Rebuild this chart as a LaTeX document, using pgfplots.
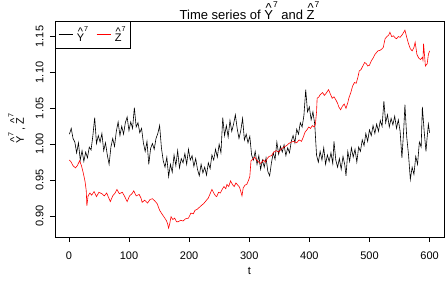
\documentclass[border=0pt]{standalone}
\usepackage{fontspec}
\setmainfont{Liberation Sans}
\usepackage{pgfplots}
\pgfplotsset{compat=1.18}
% R-style hat: a caret set well above the letter, then a small raised 7
\newcommand{\hatl}[1]{\setbox0\hbox{#1}\rlap{\hbox to \wd0{\hss\raisebox{0.55em}{\textasciicircum}\hss}}#1}
\newcommand{\Yh}{\hatl{Y}\raisebox{0.95em}{\scalebox{0.65}{7}}}
\newcommand{\Zh}{\hatl{Z}\raisebox{0.95em}{\scalebox{0.65}{7}}}

\begin{document}
\begin{tikzpicture}
\useasboundingbox (-55pt,-47pt) rectangle (392pt,237pt);
\begin{axis}[
    at={(0pt,0pt)}, anchor=south west,
    scale only axis, width=389pt, height=216pt,
    xmin=-23, xmax=624, ymin=0.8707, ymax=1.1717,
    xtick={0,100,200,300,400,500,600},
    ytick={0.90,0.95,1.00,1.05,1.10,1.15},
    axis line style={line width=0.6pt},
    tick align=outside, xtick pos=bottom, ytick pos=left,
    major tick length=5pt, tick style={black, line width=0.6pt},
    tick label style={font=\fontsize{11}{12}\selectfont},
    xticklabel shift=6pt, yticklabel shift=3pt,
    /pgf/number format/assume math mode=true,
    y tick label style={rotate=90, anchor=south,
        /pgf/number format/fixed, /pgf/number format/fixed zerofill,
        /pgf/number format/precision=2},
    xlabel={t}, ylabel={\Yh\,, \Zh},
    xlabel style={at={(axis description cs:0.5,-0.157)}, anchor=center, font=\fontsize{11}{12}\selectfont},
    ylabel style={at={(axis description cs:-0.098,0.5)}, anchor=center, font=\fontsize{11}{12}\selectfont},
    title={Time series of \Yh\ and \Zh},
    every axis title shift=0pt,
    title style={at={(axis description cs:0.5,1)}, anchor=base, yshift=1.5pt, font=\fontsize{13}{14}\selectfont},
    legend columns=2,
    legend style={at={(0,1)}, anchor=north west, draw=black, line width=0.6pt, fill=white,
        font=\fontsize{11}{12}\selectfont, inner xsep=3pt, inner ysep=3pt,
        /tikz/every even column/.append style={column sep=6pt},
        /tikz/every odd column/.append style={column sep=2pt}},
    legend image code/.code={\draw[#1] (0pt,0pt) -- (14pt,0pt);},
]

\addplot[black, line width=0.6pt] coordinates {
(1,1.014) (4,1.022) (7,1.008) (10,1.003) (13,0.988) (16,1.002) (19,0.978) (22,0.991)
(25,0.976) (28,0.989) (31,0.981) (34,0.996) (37,0.992) (40,1.012) (43,1.037) (46,1.001)
(49,1.012) (52,1.003) (55,1.015) (58,0.991) (61,1.002) (64,0.985) (67,0.972) (70,0.996)
(73,1.008) (76,0.997) (79,1.018) (82,1.031) (85,1.012) (88,1.025) (91,1.014) (94,1.030)
(97,1.038) (100,1.019) (103,1.031) (106,1.022) (109,1.051) (112,1.024) (115,1.030) (118,1.016)
(121,1.022) (124,1.002) (127,0.990) (130,1.004) (133,0.972) (136,0.994) (139,1.001) (142,0.993)
(145,1.008) (148,1.015) (151,1.026) (154,0.995) (157,0.977) (160,0.968) (163,0.982) (166,0.955)
(169,0.972) (172,0.961) (175,0.985) (178,0.970) (181,0.991) (184,0.967) (187,0.980) (190,0.974)
(193,0.987) (196,0.972) (199,0.993) (202,0.978) (205,0.984) (208,0.969) (211,0.980) (214,0.965)
(217,0.956) (220,0.972) (223,0.960) (226,0.968) (229,0.957) (232,0.974) (235,0.966) (238,0.985)
(241,0.978) (244,0.993) (247,0.982) (250,1.000) (253,0.988) (256,1.037) (259,1.012) (262,1.026)
(265,1.010) (268,1.033) (271,1.018) (274,1.028) (277,1.041) (280,1.022) (283,1.008) (286,1.019)
(289,1.036) (292,1.006) (295,1.014) (298,1.002) (301,1.011) (304,0.985) (307,0.978) (310,0.990)
(313,0.972) (316,0.984) (319,0.965) (322,0.978) (325,0.968) (328,0.981) (331,0.962) (334,0.956)
(337,0.974) (340,0.988) (343,0.979) (346,1.003) (349,0.986) (352,0.997) (355,0.989) (358,0.999)
(361,0.984) (364,0.995) (367,0.988) (370,1.004) (373,1.012) (376,1.002) (379,1.021) (382,1.014)
(385,1.030) (388,1.024) (391,1.040) (394,1.076) (397,1.045) (400,1.052) (403,1.034) (406,1.045)
(409,1.028) (412,0.985) (415,0.975) (418,0.990) (421,0.978) (424,0.995) (427,0.972) (430,0.985)
(433,0.976) (436,0.988) (439,0.973) (441,1.004) (444,0.978) (447,0.968) (450,0.980) (453,0.965)
(456,0.983) (459,0.971) (461,0.956) (464,0.990) (467,0.976) (470,0.995) (473,0.982) (476,0.993)
(479,0.975) (482,0.996) (485,0.990) (488,1.006) (491,0.998) (494,1.015) (497,1.004) (500,1.020)
(503,1.012) (506,1.026) (509,1.015) (512,1.028) (515,1.018) (518,1.033) (521,1.025) (524,1.060)
(527,1.030) (530,1.041) (533,1.024) (536,1.036) (539,1.027) (542,1.039) (545,1.022) (548,1.034)
(551,1.018) (554,0.981) (557,1.020) (559,1.055) (562,1.010) (565,0.985) (568,0.951) (571,0.968)
(574,0.958) (577,0.983) (580,0.972) (583,1.003) (586,0.996) (588,1.052) (591,1.018) (594,0.990)
(596,1.010) (598,1.028) (600,1.016)
};
\addlegendentry{\Yh}

\addplot[red, line width=0.6pt] coordinates {
(1,0.978) (4,0.975) (7,0.970) (11,0.967) (14,0.970) (18,0.977) (21,0.970) (24,0.960)
(27,0.948) (29,0.935) (30,0.914) (32,0.928) (35,0.932) (38,0.929) (42,0.934) (46,0.927)
(50,0.933) (55,0.931) (59,0.928) (63,0.932) (66,0.926) (69,0.920) (73,0.928) (77,0.932)
(80,0.937) (84,0.931) (89,0.933) (93,0.927) (97,0.920) (101,0.928) (105,0.931) (108,0.935)
(112,0.928) (117,0.930) (120,0.925) (122,0.919) (126,0.922) (131,0.918) (135,0.923) (139,0.924)
(143,0.921) (147,0.917) (151,0.908) (154,0.904) (158,0.899) (162,0.894) (164,0.890) (166,0.883)
(168,0.890) (170,0.899) (173,0.895) (176,0.897) (179,0.892) (182,0.892) (186,0.894) (190,0.893)
(194,0.896) (199,0.897) (203,0.904) (207,0.903) (210,0.908) (213,0.909) (217,0.912) (221,0.915)
(224,0.917) (228,0.921) (232,0.925) (235,0.931) (238,0.937) (241,0.932) (244,0.928) (246,0.927)
(249,0.933) (252,0.932) (255,0.937) (258,0.941) (261,0.938) (263,0.944) (266,0.941) (269,0.949)
(272,0.944) (275,0.941) (278,0.946) (281,0.943) (284,0.940) (288,0.928) (290,0.939) (293,0.943)
(296,0.944) (299,0.950) (301,0.955) (303,0.977) (306,0.979) (309,0.982) (312,0.978) (315,0.976)
(318,0.973) (321,0.975) (324,0.978) (327,0.975) (330,0.980) (333,0.983) (337,0.984) (341,0.989)
(345,0.991) (349,0.989) (354,0.994) (358,0.996) (362,0.998) (366,1.001) (370,1.003) (374,1.004)
(379,1.002) (383,1.006) (387,1.004) (390,1.010) (393,1.017) (396,1.020) (399,1.024) (402,1.022)
(405,1.026) (408,1.024) (410,1.027) (412,1.045) (413,1.064) (416,1.066) (418,1.069) (422,1.072)
(425,1.068) (428,1.071) (432,1.076) (435,1.070) (438,1.064) (441,1.066) (444,1.062) (447,1.057)
(449,1.052) (452,1.048) (455,1.053) (458,1.056) (461,1.050) (464,1.058) (466,1.065) (469,1.072)
(472,1.081) (475,1.086) (478,1.085) (481,1.094) (483,1.102) (486,1.104) (489,1.109) (492,1.114)
(495,1.112) (497,1.109) (500,1.110) (503,1.116) (506,1.120) (509,1.125) (512,1.128) (514,1.130)
(518,1.131) (521,1.133) (523,1.135) (526,1.147) (529,1.150) (532,1.152) (534,1.156) (537,1.150)
(540,1.151) (543,1.148) (545,1.147) (548,1.150) (551,1.149) (554,1.152) (557,1.156) (559,1.159)
(562,1.149) (565,1.140) (568,1.133) (571,1.130) (574,1.135) (576,1.142) (579,1.125) (582,1.120)
(585,1.118) (588,1.121) (589,1.117) (590,1.140) (592,1.120) (593,1.109) (596,1.112) (598,1.125)
(600,1.130)
};
\addlegendentry{\Zh}
\end{axis}
\end{tikzpicture}
\end{document}
